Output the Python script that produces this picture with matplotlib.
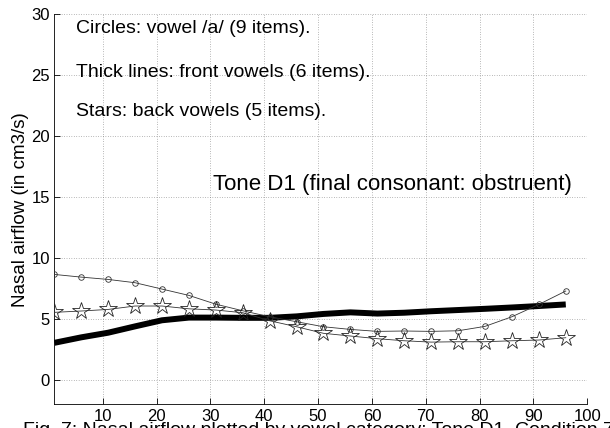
import numpy as np
import matplotlib
matplotlib.use("Agg")
import matplotlib.pyplot as plt

plt.rcParams['font.family'] = ['Liberation Sans', 'DejaVu Sans']

# time points (normalised, % of vowel duration)
x = [1, 6, 11, 16, 21, 26, 31, 36, 41, 46, 51, 56, 61, 66, 71, 76, 81, 86, 91, 96]

# circles: vowel /a/
vowel_a = [8.66, 8.44, 8.25, 7.98, 7.46, 6.94, 6.22, 5.68, 5.19, 4.78,
           4.37, 4.15, 3.99, 4.02, 3.99, 4.04, 4.40, 5.19, 6.20, 7.30]
# thick line: front vowels
front = [3.05, 3.50, 3.88, 4.40, 4.90, 5.12, 5.12, 5.10, 5.10, 5.22,
         5.42, 5.55, 5.45, 5.52, 5.64, 5.74, 5.84, 5.95, 6.07, 6.20]
# stars: back vowels
back = [5.55, 5.66, 5.79, 6.07, 6.07, 5.84, 5.74, 5.52, 4.86, 4.37,
        3.83, 3.61, 3.39, 3.22, 3.11, 3.14, 3.14, 3.22, 3.28, 3.47]

xticks = [10, 20, 30, 40, 50, 60, 70, 80, 90, 100]
yticks = [0, 5, 10, 15, 20, 25, 30]

fig = plt.figure(figsize=(6.1, 4.28), dpi=100)
ax = fig.add_axes([0.089, 0.0551, 0.8738, 0.9117])

ax.plot(x, front, color='black', linewidth=4.3, solid_capstyle='butt', zorder=3)
ax.plot(x, vowel_a, color='#333333', linewidth=0.6, marker='o', markersize=4,
        markerfacecolor='none', markeredgecolor='#333333', markeredgewidth=0.6, zorder=4)
ax.plot(x, back, color='#333333', linewidth=0.6, marker='*', markersize=13,
        markerfacecolor='none', markeredgecolor='#222222', markeredgewidth=0.6, zorder=4)

ax.set_xlim(1, 100)
ax.set_ylim(-2, 30)
ax.set_xticks(xticks)
ax.set_yticks(yticks)
ax.tick_params(direction='in', length=4, width=0.6, labelsize=12, colors='black', pad=3)
ax.grid(True, linestyle=(0, (1, 2.5)), linewidth=0.5, color='#777777')
ax.set_axisbelow(True)
for side in ['top', 'right']:
    ax.spines[side].set_visible(False)
for side in ['left', 'bottom']:
    ax.spines[side].set_linewidth(0.6)

ax.set_ylabel('Nasal airflow (in cm3/s)', fontsize=13.5, labelpad=2)

ax.text(5.0, 28.85, 'Circles: vowel /a/ (9 items).', fontsize=14, va='center', ha='left')
ax.text(5.0, 25.25, 'Thick lines: front vowels (6 items).', fontsize=14, va='center', ha='left')
ax.text(5.0, 22.05, 'Stars: back vowels (5 items).', fontsize=14, va='center', ha='left')
ax.text(30.5, 16.0, 'Tone D1 (final consonant: obstruent)', fontsize=16, va='center', ha='left')

fig.text(23 / 610, 1 - 422 / 428, 'Fig. 7: Nasal airflow plotted by vowel category: Tone D1, Condition 7',
         fontsize=14, va='top', ha='left')

fig.savefig('out.png', dpi=100)
